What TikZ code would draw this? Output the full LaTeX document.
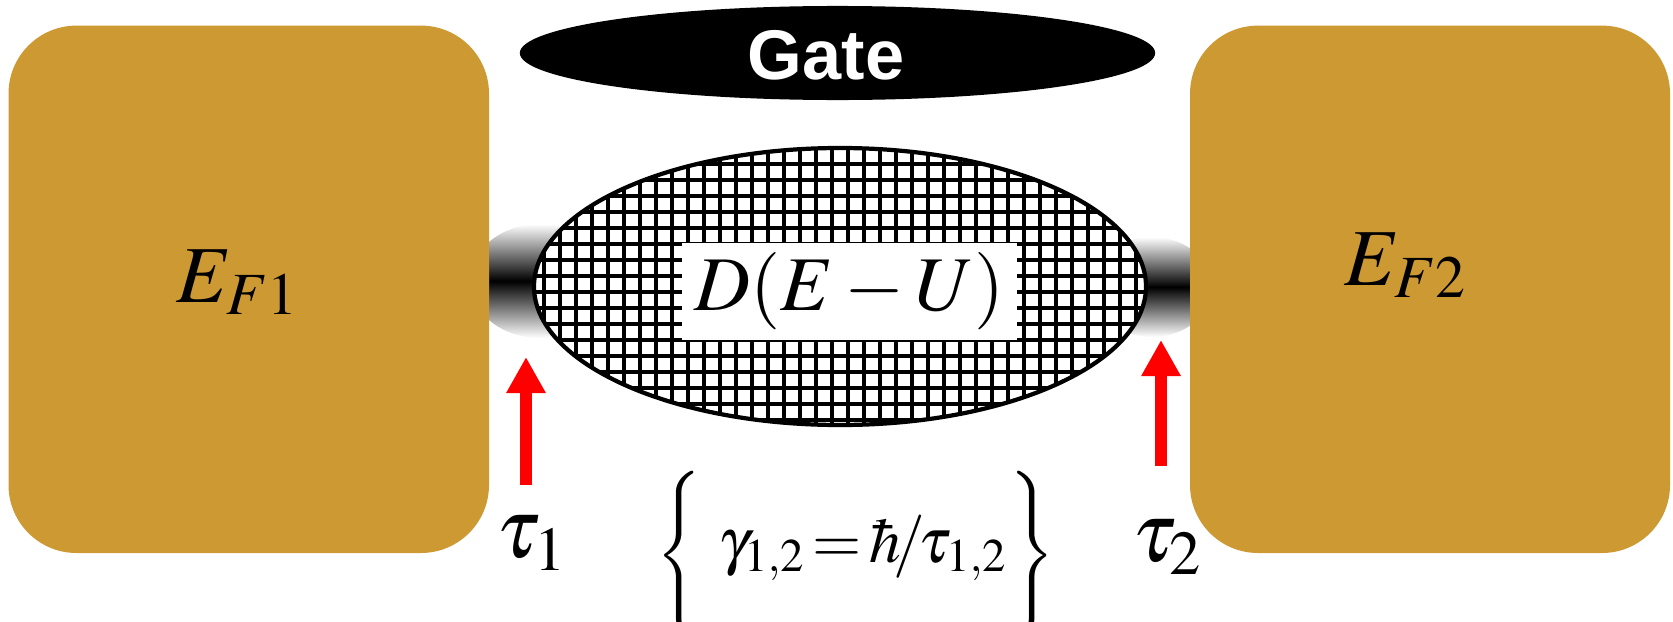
\documentclass[tikz,border=0pt]{standalone}
\usepackage{mathptmx}
\usepackage{fontspec}
\newfontfamily\gatefont{Liberation Sans}
\usepackage{xcolor}
\usetikzlibrary{arrows.meta, positioning, shapes.geometric}
\definecolor{leadgold}{RGB}{204,153,51}

\begin{document}
\begin{tikzpicture}[x=0.01cm, y=-0.01cm,
   lead/.style={fill=leadgold, rounded corners=0.68cm},
   contact/.style={top color=white, bottom color=white, middle color=black},
   probe/.style={-{Triangle[length=0.36cm, width=0.37cm]}, line width=0.12cm, red},
   gatebox/.style={ellipse, fill=black, minimum width=6.35cm, minimum height=0.94cm, inner sep=0pt},
   gatelbl/.style={text=white, font=\gatefont\bfseries\fontsize{20}{24}\selectfont},
   dotlbl/.style={fill=white, minimum width=3.35cm, minimum height=0.97cm, inner sep=0pt,
                  font=\fontsize{22}{26}\selectfont},
   mlbl/.style={font=\fontsize{23}{28}\selectfont, inner sep=0pt},
   taulbl/.style={font=\fontsize{24}{29}\selectfont, inner sep=0pt},
   eqlbl/.style={font=\fontsize{18}{22}\selectfont, inner sep=0pt, anchor=base},
   bracelbl/.style={font=\fontsize{16}{20}\selectfont, inner sep=0pt}]
  \useasboundingbox (0,0) rectangle (1673,621);
  % tunnel contacts
  \shade[contact] (540,281) ellipse [x radius=70, y radius=57];
  \shade[contact] (1152,287) ellipse [x radius=60, y radius=50];
  % quantum dot, hatched
  \fill[white] (840,286.5) ellipse [x radius=306, y radius=138.5];
  \begin{scope}
    \clip (840,286.5) ellipse [x radius=306, y radius=138.5];
    \foreach \gx in {528,544,...,1152}
      \draw[line width=0.9pt] (\gx,140) -- (\gx,430);
    \foreach \gy in {132,148,...,436}
      \draw[line width=0.9pt] (530,\gy) -- (1150,\gy);
  \end{scope}
  \draw[line width=1.2pt] (840,286.5) ellipse [x radius=306, y radius=138.5];
  % leads
  \fill[lead] (8.5,25.6) rectangle (489,553);
  \fill[lead] (1190,25.6) rectangle (1670,553);
  \node[mlbl] (ef1) at (238,282) {$E_{F1}$};
  \node[mlbl] (ef2) at (1406,265) {$E_{F2}$};
  % density of states
  \node[dotlbl] (dos) at (849.5,291.5) {$D(E-U)$};
  % gate
  \node[gatebox] (gate) at (837.5,53) {};
  \node[gatelbl] (gatetxt) at (826,55) {Gate};
  % coupling arrows
  \coordinate (foot1) at (526,485);
  \coordinate (tip1) at (526,357);
  \coordinate (foot2) at (1161,466);
  \coordinate (tip2) at (1161,340);
  \draw[probe] (foot1) -- (tip1);
  \draw[probe] (foot2) -- (tip2);
  \node[taulbl] (tau1) at (532,543) {$\tau_1$};
  \node[taulbl] (tau2) at (1167,547) {$\tau_2$};
  % broadening
  \node[eqlbl] (gam) at (863,562) {$\thickmuskip=2mu\gamma_{1,2}=\hbar\!/\!\tau_{1,2}$};
  \node[bracelbl] (lbr) at (681,556) {$\left\{\vcenter{\hbox{\rule{0pt}{1.52cm}}}\right.$};
  \node[bracelbl] (rbr) at (1030,556) {$\left.\vcenter{\hbox{\rule{0pt}{1.52cm}}}\right\}$};
\end{tikzpicture}
\end{document}
